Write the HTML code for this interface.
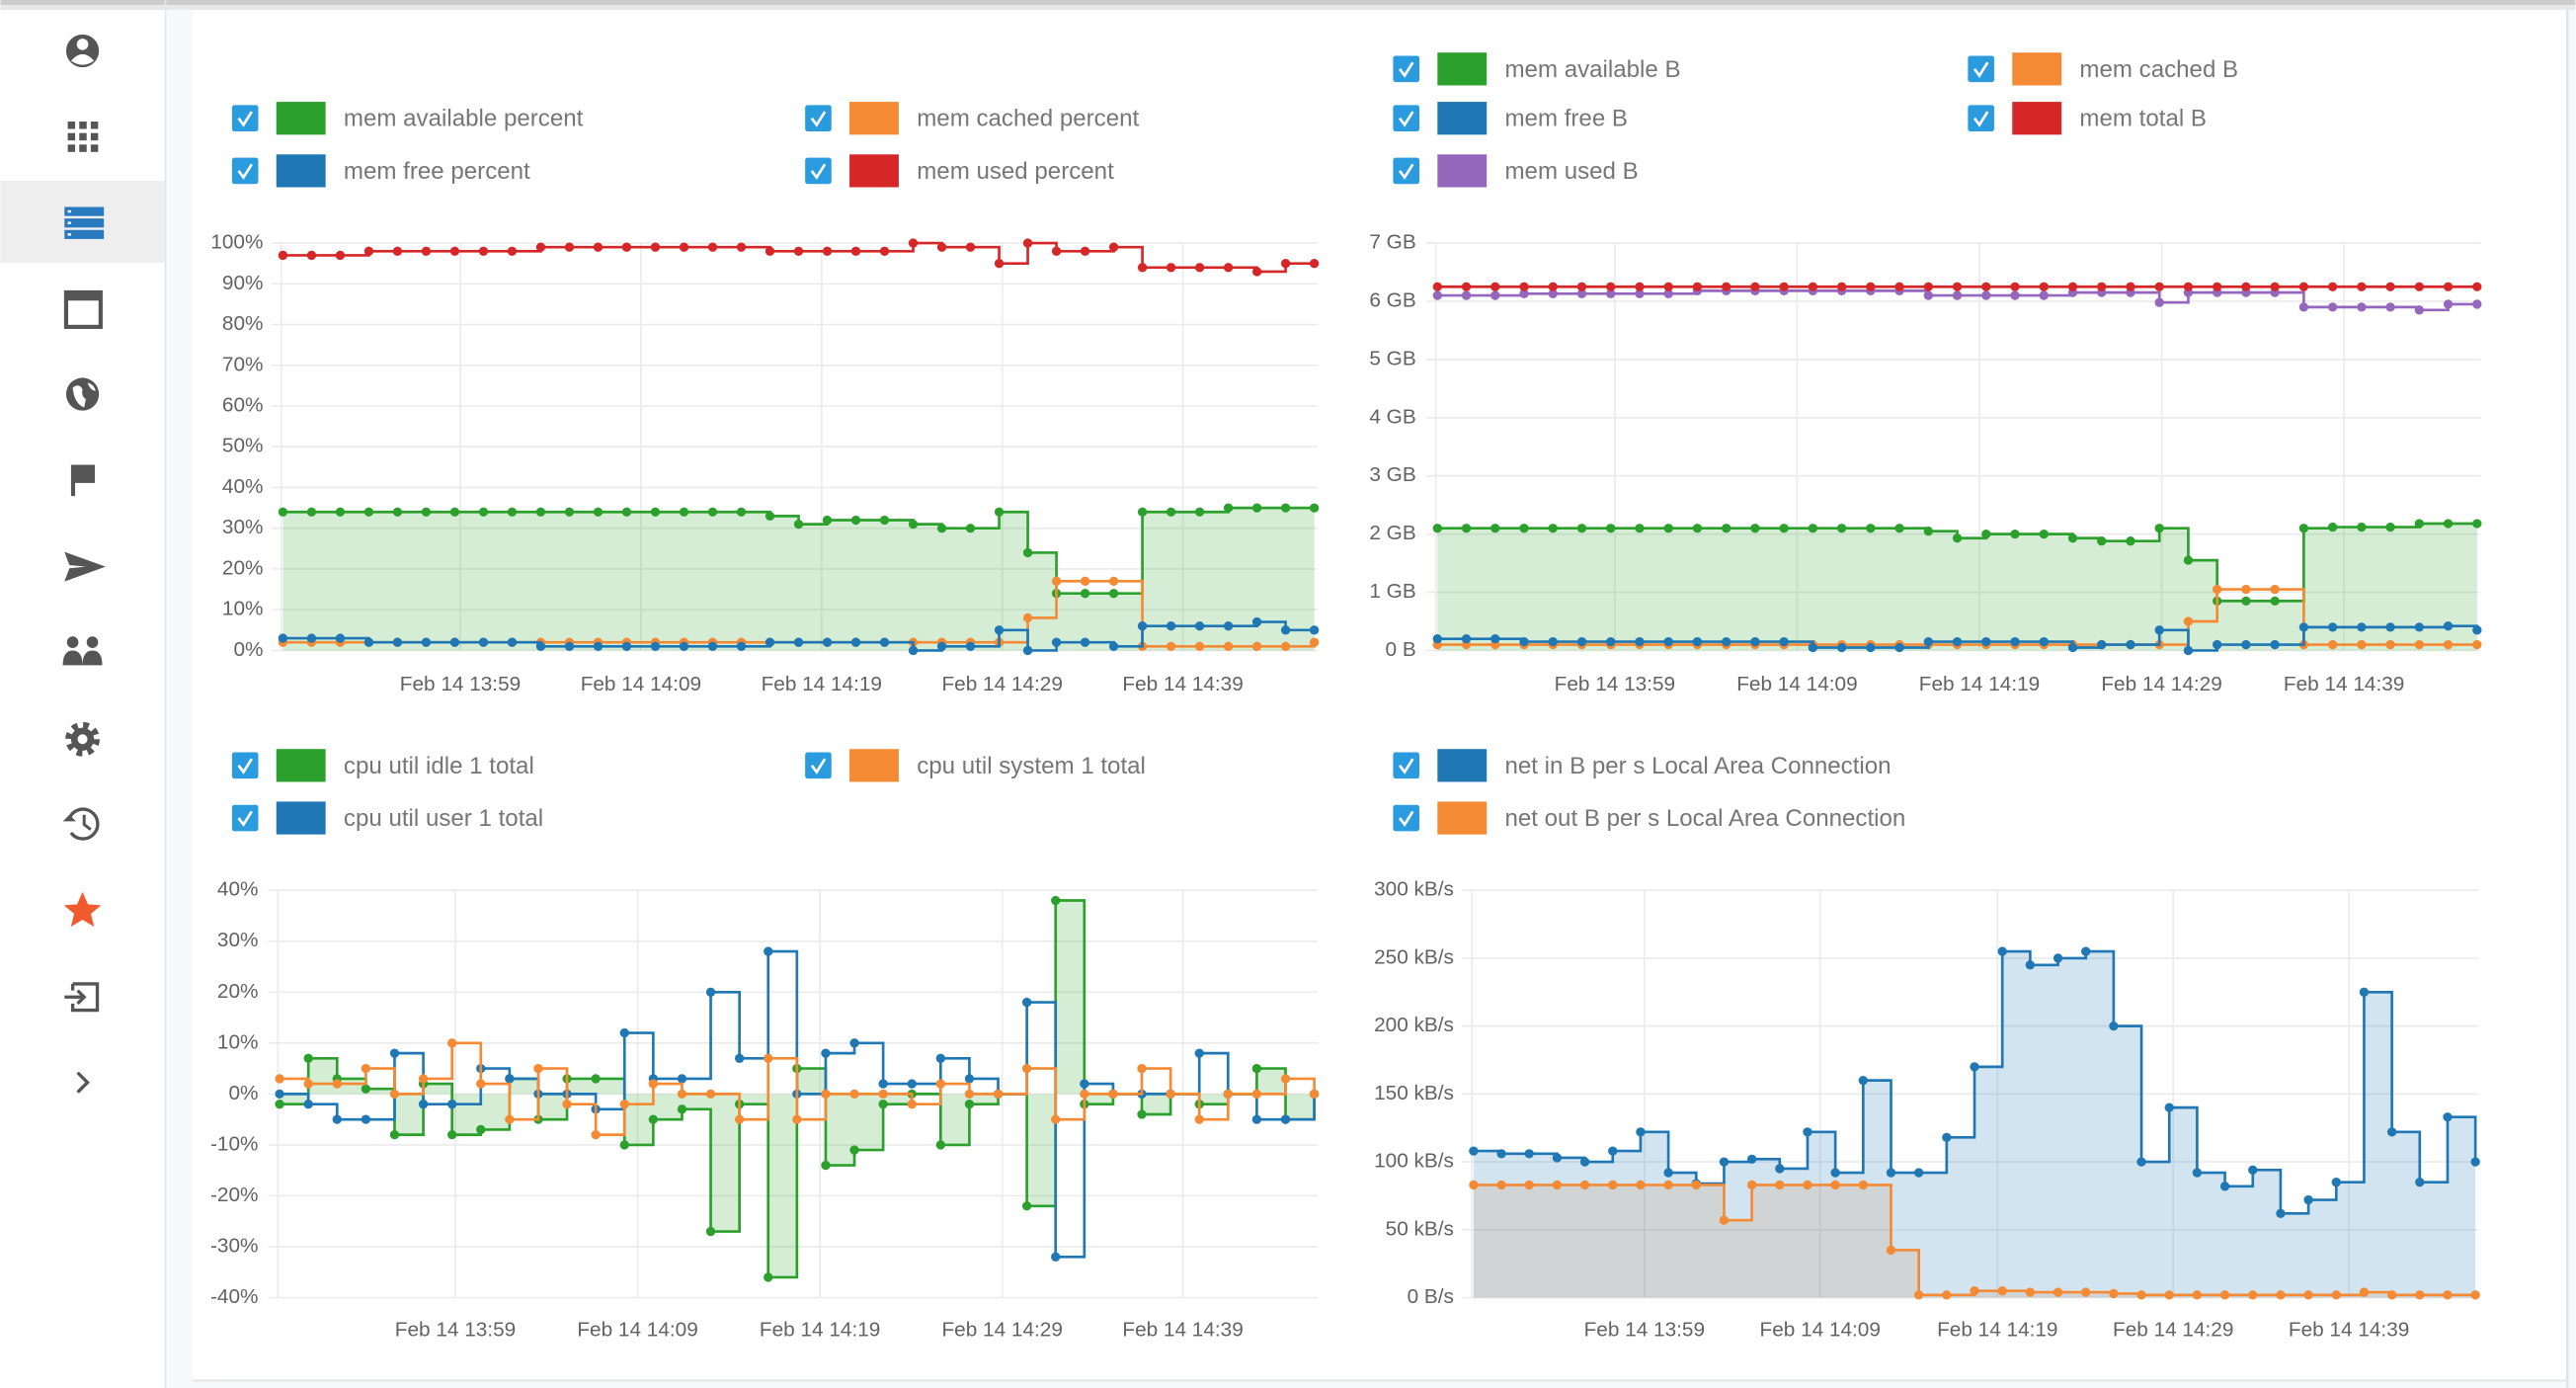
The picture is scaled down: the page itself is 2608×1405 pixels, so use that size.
<!DOCTYPE html>
<html><head><meta charset="utf-8">
<style>
html,body{margin:0;padding:0;background:#fff;}
body{width:2608px;height:1405px;overflow:hidden;}
svg{display:block;}
text{font-family:"Liberation Sans",sans-serif;}
.lg{font-size:14.5px;fill:#767676;}
.tk{font-size:12.5px;fill:#626262;}
</style></head>
<body>
<svg id="s" width="2608" height="1405" viewBox="0 0 1568 845" xmlns="http://www.w3.org/2000/svg">
<rect x="0" y="0" width="1568" height="845" fill="#fff"/>
<rect x="100" y="0" width="1468" height="845" fill="#f7f8fa"/>
<rect x="117" y="4" width="1446" height="836" fill="#fff"/>
<line x1="1563" y1="0" x2="1563" y2="845" stroke="#e2e2e2" stroke-width="1.5"/>
<line x1="117" y1="840.5" x2="1563" y2="840.5" stroke="#e2e2e2"/>
<rect x="0" y="0" width="1568" height="3" fill="#ccc"/>
<rect x="0" y="3" width="1568" height="3" fill="#e8e8e8"/>
<line x1="100.5" y1="0" x2="100.5" y2="845" stroke="#e6e6e6"/>
<rect x="0" y="110" width="100" height="50" fill="#eeeeee"/>
<g id="side" fill="#555"></g>
<g id="g"></g>
</svg>
<script>
var NS="http://www.w3.org/2000/svg";
var G=document.getElementById('g');
function el(t,a,p){var e=document.createElementNS(NS,t);for(var k in a)e.setAttribute(k,a[k]);(p||G).appendChild(e);return e;}
function txt(x,y,s,c,anchor){var e=el('text',{x:x,y:y,'class':c,'text-anchor':anchor||'start','dominant-baseline':'middle'});e.textContent=s;return e;}
var C={g:'#2ca02c',o:'#f58a35',b:'#1f77b4',r:'#d62728',p:'#9467bd'};
function legend(x,y,col,label){
 el('rect',{x:x,y:y-8,width:16,height:16,rx:1.5,fill:'#2b9be0'});
 el('path',{d:'M'+(x+4)+' '+(y)+' l3 4 l5 -8',stroke:'#fff','stroke-width':1.6,fill:'none'});
 el('rect',{x:x+27,y:y-10,width:30,height:20,fill:col});
 txt(x+68,y+1,label,'lg');
}
function chart(o){
 for(var i=0;i<o.ticks.length;i++){var y=o.fy(o.ticks[i][0]);
  el('line',{x1:o.gx0,y1:y,x2:o.gx1,y2:y,stroke:'#ebebeb','stroke-width':1});
  txt(o.lx,y,o.ticks[i][1],'tk','end');}
 for(var j=0;j<o.xl.length;j++){var x=o.xl[j];
  el('line',{x1:x,y1:o.fy(o.ticks[0][0]),x2:x,y2:o.fy(o.ticks[o.ticks.length-1][0]),stroke:'#ebebeb','stroke-width':1});
  txt(x,o.xy,o.xn[j],'tk','middle');}
 el('line',{x1:o.x0-1,y1:o.fy(o.ticks[0][0]),x2:o.x0-1,y2:o.fy(o.ticks[o.ticks.length-1][0]),stroke:'#ebebeb'});
 var n=37,step=(o.x1-o.x0)/(n-1);
 var base=o.fy(o.base);
 o.series.forEach(function(s){
  if(!s.fill)return;
  var d='M'+o.x0+' '+base+' V'+o.fy(s.v[0]);
  for(var i=1;i<n;i++){d+=' H'+(o.x0+i*step)+' V'+o.fy(s.v[i]);}
  d+=' V'+base+' Z';
  el('path',{d:d,fill:s.fill,stroke:'none'});
 });
 o.series.forEach(function(s){
  var d='M'+o.x0+' '+o.fy(s.v[0]);
  for(var i=1;i<n;i++){d+=' H'+(o.x0+i*step)+' V'+o.fy(s.v[i]);}
  el('path',{d:d,fill:'none',stroke:s.c,'stroke-width':1.6});
  for(var i=0;i<n;i++)el('circle',{cx:o.x0+i*step,cy:o.fy(s.v[i]),r:2.8,fill:s.c});
 });
}
function rep(a){var r=[];for(var i=0;i<a.length;i+=2)for(var k=0;k<a[i+1];k++)r.push(a[i]);return r;}
var XN=['Feb 14 13:59','Feb 14 14:09','Feb 14 14:19','Feb 14 14:29','Feb 14 14:39'];

legend(141,72,C.g,'mem available percent');legend(490,72,C.o,'mem cached percent');
legend(141,104,C.b,'mem free percent');legend(490,104,C.r,'mem used percent');
var t1=[];for(var v=100;v>=0;v-=10)t1.push([v,v+'%']);
chart({x0:172,x1:800,gx0:165,gx1:802,lx:160,fy:function(v){return 396-v*2.48},ticks:t1,base:0,
 xl:[280,390,500,610,720],xn:XN,xy:417,
 series:[
 {c:C.g,fill:'rgba(44,160,44,0.2)',v:rep([34,17,33,1,31,1,32,3,31,1,30,2,34,1,24,1,14,3,34,3,35,4])},
 {c:C.o,v:rep([2,26,8,1,17,3,1,6,2,1])},
 {c:C.b,v:rep([3,3,2,6,1,8,2,5,0,1,1,2,5,1,0,1,2,2,1,1,6,4,7,1,5,2])},
 {c:C.r,v:rep([97,3,98,6,99,8,98,5,100,1,99,2,95,1,100,1,98,2,99,1,94,4,93,1,95,2])}
 ]});

legend(848,42,C.g,'mem available B');legend(1198,42,C.o,'mem cached B');
legend(848,72,C.b,'mem free B');legend(1198,72,C.r,'mem total B');
legend(848,104,C.p,'mem used B');
var t2=[];for(var v=7;v>=0;v--)t2.push([v,v==0?'0 B':v+' GB']);
chart({x0:875,x1:1508,gx0:868,gx1:1510,lx:862,fy:function(v){return 396-v*35.43},ticks:t2,base:0,
 xl:[983,1094,1205,1316,1427],xn:XN,xy:417,
 series:[
 {c:C.g,fill:'rgba(44,160,44,0.2)',v:rep([2.1,17,2.05,1,1.93,1,2.0,3,1.93,1,1.88,2,2.1,1,1.55,1,0.85,3,2.1,1,2.12,3,2.18,3])},
 {c:C.o,v:rep([0.1,26,0.5,1,1.05,3,0.1,7])},
 {c:C.b,v:rep([0.2,3,0.15,10,0.05,4,0.15,5,0.05,1,0.1,2,0.35,1,0,1,0.1,3,0.4,5,0.42,1,0.35,1])},
 {c:C.p,v:rep([6.1,3,6.13,6,6.18,8,6.1,5,6.15,3,5.98,1,6.15,4,5.9,4,5.85,1,5.95,2])},
 {c:C.r,v:rep([6.25,37])}
 ]});

legend(141,466,C.g,'cpu util idle 1 total');legend(490,466,C.o,'cpu util system 1 total');
legend(141,498,C.b,'cpu util user 1 total');
var t3=[];for(var v=40;v>=-40;v-=10)t3.push([v,v+'%']);
chart({x0:170,x1:800,gx0:163,gx1:802,lx:157,fy:function(v){return 666-v*3.1},ticks:t3,base:0,
 xl:[277,388,499,610,720],xn:XN,xy:810,
 series:[
 {c:C.g,fill:'rgba(44,160,44,0.2)',v:[-2,7,3,1,-8,2,-8,-7,3,-5,3,3,-10,-5,-3,-27,-2,-36,5,-14,-11,-2,0,-10,-2,0,-22,38,-2,0,-4,0,-2,0,5,-5,0]},
 {c:C.b,v:[0,-2,-5,-5,8,-2,-2,5,3,0,0,-3,12,3,3,20,7,28,0,8,10,2,2,7,3,0,18,-32,2,0,0,0,8,0,-5,-5,0]},
 {c:C.o,v:[3,2,2,5,0,3,10,2,-5,5,-2,-8,-2,2,0,0,-5,7,-5,0,0,0,-2,2,0,0,5,-5,0,0,5,0,-5,0,0,3,0]}
 ]});

legend(848,466,C.b,'net in B per s Local Area Connection');
legend(848,498,C.o,'net out B per s Local Area Connection');
var t4=[];for(var v=300;v>=0;v-=50)t4.push([v,v==0?'0 B/s':v+' kB/s']);
chart({x0:897,x1:1507,gx0:890,gx1:1509,lx:885,fy:function(v){return 790-v*0.8267},ticks:t4,base:0,
 xl:[1001,1108,1216,1323,1430],xn:XN,xy:810,
 series:[
 {c:C.b,fill:'rgba(31,119,180,0.2)',v:[108,106,106,103,100,108,122,92,84,100,102,95,122,92,160,92,92,118,170,255,245,250,255,200,100,140,92,82,94,62,72,85,225,122,85,133,100]},
 {c:C.o,fill:'rgba(200,140,90,0.18)',v:[83,83,83,83,83,83,83,83,83,57,83,83,83,83,83,35,2,2,5,5,4,4,4,3,2,2,2,2,2,2,2,2,4,2,2,2,2]}
 ]});

var S=document.getElementById('side');
function se(t,a){return el(t,a,S);}
var cx=50;
se('circle',{cx:cx,cy:31,r:10,fill:'#555'});se('circle',{cx:cx,cy:27,r:3.5,fill:'#fff'});se('path',{d:'M43 37 q7 -8 14 0 q-7 5 -14 0z',fill:'#fff'});
for(var i=0;i<3;i++)for(var j=0;j<3;j++)se('rect',{x:41+i*7,y:74+j*7,width:4.5,height:4.5,fill:'#555'});
for(var j=0;j<3;j++){se('rect',{x:39,y:126+j*7,width:24,height:5.5,fill:'#2a7ac0'});se('rect',{x:41,y:128+j*7,width:2,height:1.5,fill:'#fff'});}
se('rect',{x:40,y:178,width:21,height:21,fill:'none',stroke:'#555','stroke-width':2.5});se('rect',{x:40,y:178,width:21,height:5,fill:'#555'});
se('circle',{cx:cx,cy:240,r:10,fill:'#555'});se('path',{d:'M44 236 q4 -3 6 1 q-1 4 2 6 l-1 5 q-6 -2 -7 -12z M53 233 q4 1 5 5 q-3 0 -5 -5z',fill:'#fff'});
se('path',{d:'M43 283 v19 h2.5 v-8 h12 v-11z',fill:'#555'});
se('path',{d:'M39 336 l25 9 l-25 9 l3 -8 l10 -1 l-10 -1z',fill:'#555'});
se('circle',{cx:44,cy:391,r:3.5});se('circle',{cx:56,cy:391,r:3.5});se('path',{d:'M38 405 q0 -9 6 -9 q6 0 6 9z M50 405 q0 -9 6 -9 q6 0 6 9z',fill:'#555'});
se('circle',{cx:cx,cy:450,r:8,fill:'none',stroke:'#555','stroke-width':5,'stroke-dasharray':'3.2 3.1'});se('circle',{cx:cx,cy:450,r:7,fill:'#555'});se('circle',{cx:cx,cy:450,r:3,fill:'#fff'});
se('path',{d:'M42 498 a9 9 0 1 1 1 9',fill:'none',stroke:'#555','stroke-width':2});se('path',{d:'M38 500 l4 -4 l4 4z',fill:'#555'});se('path',{d:'M51 496 v6 l4 3',fill:'none',stroke:'#555','stroke-width':1.8});
se('path',{d:'M50 543 l3.3 7.5 8 .6 -6.2 5.2 2 7.9 -7.1 -4.3 -7.1 4.3 2 -7.9 -6.2 -5.2 8 -.6z',fill:'#ef5a2f'});
se('path',{d:'M44 599 h15 v16 h-15 v-4 M44 603 v-4',fill:'none',stroke:'#555','stroke-width':2});se('path',{d:'M39 607 h12 M47 603 l4 4 -4 4',fill:'none',stroke:'#555','stroke-width':2});
se('path',{d:'M47 653 l6 6 -6 6',fill:'none',stroke:'#555','stroke-width':2});
</script>
</body></html>
